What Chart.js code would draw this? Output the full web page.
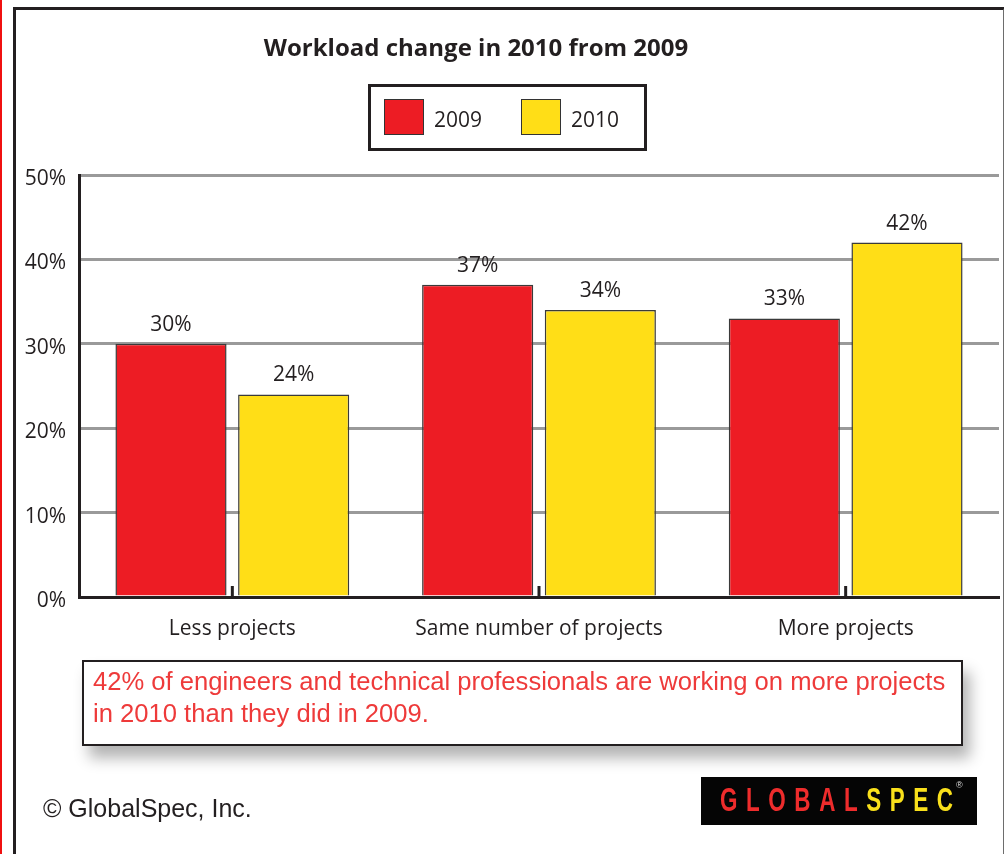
<!DOCTYPE html>
<html>
<head>
<meta charset="utf-8">
<script src="https://cdn.jsdelivr.net/npm/chart.js@4.4.1/dist/chart.umd.min.js"></script>
<style>
    html, body { margin: 0; padding: 0; background: #fff; }
    body { width: 1004px; height: 854px; position: relative; overflow: hidden; }
    #chart { position: absolute; left: 0; top: 0; }
    .red-edge { position: absolute; left: 0; top: 0; width: 2px; height: 854px; background: #f01010; }
    .frame { position: absolute; left: 13px; top: 7px; width: 987px; height: 860px;
             border-left: 3px solid #231f20; border-top: 3px solid #231f20; border-right: 2px solid #6d6d6d; }
    .title { position: absolute; left: 0; width: 952px; top: 30px; text-align: center;
             font: bold 24px 'Open Sans', sans-serif; color: #231f20; }
    #legend { position: absolute; left: 368px; top: 84px; width: 273px; height: 61px;
              border: 3px solid #231f20; background: #fff; }
    .lg-item { position: absolute; top: 12px; height: 36px; font: 21px 'Open Sans', sans-serif; color: #231f20; }
    .lg-item span.sw { position: absolute; left: 0; top: 0; width: 38px; height: 34px; border: 1px solid #333; }
    .lg-item span.tx { position: absolute; left: 50px; top: 6px; }
    .note { position: absolute; left: 82px; top: 660px; width: 877px; height: 82px;
            border: 2px solid #231f20; background: #fff;
            box-shadow: 7px 12px 14px rgba(0,0,0,0.3); }
    .note p { margin: 0; padding: 3px 0 0 9px; font: 25.6px 'Liberation Sans', Arial, sans-serif;
              color: #ee3a3a; line-height: 32px; white-space: nowrap; }
    .copy { position: absolute; left: 43px; top: 794px; font: 25px 'Liberation Sans', Arial, sans-serif; color: #231f20; }
    .logo { position: absolute; left: 701px; top: 777px; width: 276px; height: 48px; background: #050505; overflow: hidden; }
    .logo .txt { position: absolute; left: 19px; top: 3px; font: bold 34px 'Liberation Sans', Arial, sans-serif;
                 letter-spacing: 13px; white-space: nowrap; transform: scaleX(0.66); transform-origin: 0 0; }
    .logo .g { color: #ee2c2c; }
    .logo .s { color: #f9e01b; }
    .logo .r { position: absolute; left: 255px; top: 3px; font: 9px sans-serif; color: #ddd; }
</style>
</head>
<body>
<canvas id="chart" width="1004" height="854"></canvas>
<div class="red-edge"></div>
<div class="frame"></div>
<div class="title">Workload change in 2010 from 2009</div>
<div id="legend"></div>
<div class="note"><p>42% of engineers and technical professionals are working on more projects<br>in 2010 than they did in 2009.</p></div>
<div class="copy">© GlobalSpec, Inc.</div>
<div class="logo"><div class="txt"><span class="g">GLOBAL</span><span class="s">SPEC</span></div><div class="r">®</div></div>

<script>
// data
const categories = ['Less projects', 'Same number of projects', 'More projects'];
const seriesNames = ['2009', '2010'];
const values2009 = [30, 37, 33];
const values2010 = [24, 34, 42];
const yTickMax = 50;
const yTickStep = 10;

const RED = '#ed1c24';
const YELLOW = '#ffde17';
const INK = '#231f20';

Chart.defaults.font.family = "'Open Sans', sans-serif";
Chart.defaults.color = INK;

// small value labels above every bar
const valueLabels = {
    id: 'valueLabels',
    afterDatasetsDraw(chart) {
        const ctx = chart.ctx;
        ctx.save();
        ctx.font = "21px 'Open Sans', sans-serif";
        ctx.fillStyle = INK;
        ctx.textAlign = 'center';
        ctx.textBaseline = 'middle';
        chart.data.datasets.forEach((ds, i) => {
            chart.getDatasetMeta(i).data.forEach((bar, j) => {
                ctx.fillText(ds.data[j] + '%', bar.x, bar.y - 19);
            });
        });
        ctx.restore();
    }
};

// short tick marks pointing up from the x axis at each category centre
const innerTicks = {
    id: 'innerTicks',
    afterDatasetsDraw(chart) {
        const x = chart.scales.x;
        const bottom = chart.chartArea.bottom;
        const ctx = chart.ctx;
        ctx.save();
        ctx.strokeStyle = INK;
        ctx.lineWidth = 3;
        x.ticks.forEach((t, i) => {
            const px = x.getPixelForTick(i);
            ctx.beginPath();
            ctx.moveTo(px, bottom - 11);
            ctx.lineTo(px, bottom);
            ctx.stroke();
        });
        ctx.restore();
    }
};

const chart = new Chart(document.getElementById('chart'), {
    type: 'bar',
    data: {
        labels: categories,
        datasets: [{
            label: seriesNames[0],
            data: values2009,
            backgroundColor: RED,
            borderColor: '#3a3a3a',
            borderWidth: 1.5
        }, {
            label: seriesNames[1],
            data: values2010,
            backgroundColor: YELLOW,
            borderColor: '#3a3a3a',
            borderWidth: 1.5
        }]
    },
    options: {
        responsive: false,
        animation: false,
        devicePixelRatio: 1,
        categoryPercentage: 0.8,
        barPercentage: 0.906,
        layout: { padding: { top: 175, right: 5, left: 0, bottom: 0 } },
        plugins: {
            legend: { display: false },
            tooltip: { enabled: false }
        },
        scales: {
            y: {
                min: 0,
                max: yTickMax,
                afterFit: s => { s.width = 79; },
                ticks: {
                    stepSize: yTickStep,
                    callback: v => v + '%',
                    font: { size: 21 },
                    padding: 13,
                    labelOffset: 4
                },
                grid: {
                    color: c => (c.tick && c.tick.value === 0) ? 'rgba(0,0,0,0)' : '#9a9a9a',
                    lineWidth: 3,
                    drawTicks: false
                },
                border: { display: true, color: INK, width: 3 }
            },
            x: {
                afterFit: s => { s.height = 257; },
                ticks: { font: { size: 21 }, padding: 19 },
                grid: { drawOnChartArea: false, drawTicks: false, color: 'rgba(0,0,0,0)' },
                border: { display: true, color: INK, width: 3 }
            }
        }
    },
    plugins: [valueLabels, innerTicks]
});

// legend built from the datasets
const legendEl = document.getElementById('legend');
const legendLeft = [13, 150];
chart.data.datasets.forEach((ds, i) => {
    const item = document.createElement('div');
    item.className = 'lg-item';
    item.style.left = legendLeft[i] + 'px';
    item.innerHTML = `<span class="sw" style="background:${ds.backgroundColor}"></span><span class="tx">${ds.label}</span>`;
    legendEl.appendChild(item);
});
</script>
</body>
</html>
